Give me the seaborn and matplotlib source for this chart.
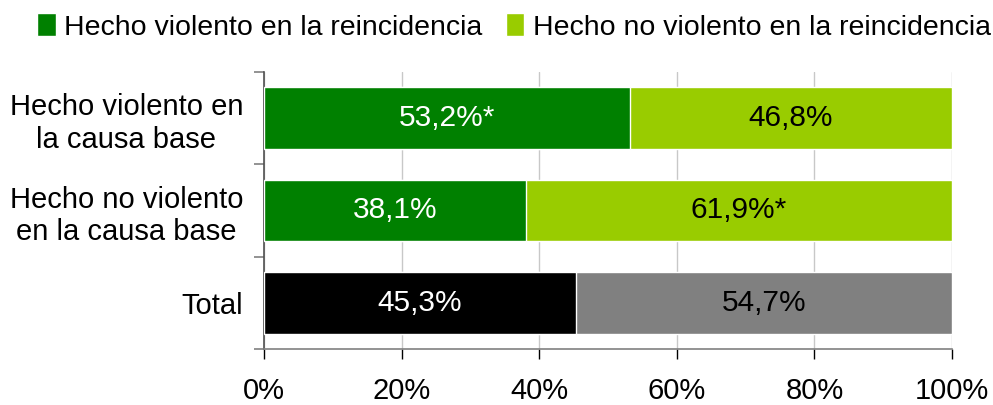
import matplotlib

matplotlib.use("Agg")

import matplotlib.pyplot as plt
import pandas as pd
import seaborn as sns
from matplotlib.patches import Patch

categories = ["Hecho violento en\nla causa base", "Hecho no violento\nen la causa base", "Total"]
violento = [53.2, 38.1, 45.3]
no_violento = [46.8, 61.9, 54.7]
label_violento = ["53,2%*", "38,1%", "45,3%"]
label_no_violento = ["46,8%", "61,9%*", "54,7%"]
series_names = ["Hecho violento en la reincidencia", "Hecho no violento en la reincidencia"]
x_ticks = [0, 20, 40, 60, 80, 100]

dark_colors = ["#008000", "#008000", "#000000"]
light_colors = ["#99CC00", "#99CC00", "#808080"]

sns.set_style("white")
plt.rcParams["font.family"] = ["Liberation Sans", "DejaVu Sans"]
plt.rcParams["text.color"] = "black"
plt.rcParams["xtick.labelcolor"] = "black"
plt.rcParams["ytick.labelcolor"] = "black"
FS = 21

df = pd.DataFrame({
    "cat": categories,
    "v1": violento,
    "v2": no_violento,
})
df["total"] = df["v1"] + df["v2"]

fig = plt.figure(figsize=(9.93, 4.05), dpi=100)
ax = fig.add_axes([264 / 993, 1 - 349 / 405, (952 - 264) / 993, (349 - 72) / 405])

sns.barplot(data=df, y="cat", x="total", hue="cat", palette=light_colors,
            orient="h", width=0.67, legend=False, ax=ax, saturation=1, zorder=2)
sns.barplot(data=df, y="cat", x="v1", hue="cat", palette=dark_colors,
            orient="h", width=0.67, legend=False, ax=ax, saturation=1, zorder=3)

for i, row in df.iterrows():
    ax.text(row["v1"] / 2, i, label_violento[i], ha="center", va="center",
            color="white", fontsize=FS + 0.5, zorder=4)
    ax.text(row["v1"] + row["v2"] / 2, i, label_no_violento[i], ha="center", va="center",
            color="black", fontsize=FS + 0.5, zorder=4)

ax.set_xlim(0, 100)
ax.set_ylim(2.5, -0.5)
ax.set_xticks(x_ticks)
ax.set_xticklabels([f"{t}%" for t in x_ticks], fontsize=FS)
ax.xaxis.grid(True, color="#C8C8C8", linewidth=1, zorder=0)
ax.set_axisbelow(True)
ax.set_xlabel("")
ax.set_ylabel("")

# y ticks at category boundaries, labels centered
ax.set_yticks([-0.5, 0.5, 1.5, 2.5])
ax.set_yticklabels([])
ax.set_yticks([0, 1, 2], minor=True)
ax.set_yticklabels(categories, minor=True, fontsize=FS, ha="right", multialignment="center")
ax.tick_params(axis="y", which="minor", length=0, pad=15)
ax.tick_params(axis="y", which="major", length=7, color="#808080", width=1.2, direction="out", left=True)
ax.tick_params(axis="x", length=7, color="black", width=1, direction="out", bottom=True, pad=13)

for side in ["top", "right"]:
    ax.spines[side].set_visible(False)
ax.spines["left"].set_color("#505050")
ax.spines["bottom"].set_color("#808080")
ax.spines["left"].set_linewidth(1.2)
ax.spines["bottom"].set_linewidth(1.2)

handles = [Patch(facecolor="#008000"), Patch(facecolor="#99CC00")]
fig.legend(handles, series_names, loc="center", bbox_to_anchor=(514 / 993, 1 - 27 / 405), ncol=2,
           frameon=False, fontsize=FS - 0.5, handlelength=0.65, handleheight=0.85,
           handletextpad=0.3, columnspacing=0.8, borderpad=0, borderaxespad=0)

fig.savefig("out.png", dpi=100)
